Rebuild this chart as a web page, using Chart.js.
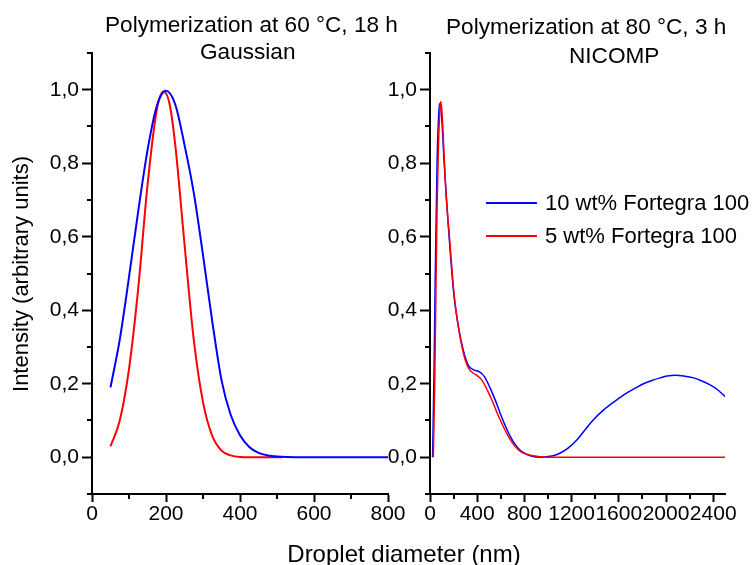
<!DOCTYPE html>
<html>
<head>
<meta charset="utf-8">
<script src="https://cdn.jsdelivr.net/npm/chart.js@4.4.1/dist/chart.umd.min.js"></script>
<style>
  body { margin:0; background:#fff; }
  #wrap { position:relative; width:755px; height:565px; overflow:hidden; font-family: Arial, "Liberation Sans", sans-serif; color:#000; }
  canvas { position:absolute; top:0; }
  .txt { position:absolute; white-space:nowrap; font-size:22px; line-height:22px; }
  .ttl { font-size:22.6px; }
  .legline { position:absolute; height:2px; }
</style>
</head>
<body>
<div id="wrap">
  <canvas id="left" width="420" height="565" style="left:0"></canvas>
  <canvas id="right" width="415" height="565" style="left:340px"></canvas>
  <div class="txt ttl" style="left:105px;top:14px">Polymerization at 60 °C, 18 h</div>
  <div class="txt ttl" style="left:200px;top:41px">Gaussian</div>
  <div class="txt ttl" style="left:446px;top:16px">Polymerization at 80 °C, 3 h</div>
  <div class="txt ttl" style="left:569px;top:45px">NICOMP</div>
  <div class="txt" style="left:-129px;top:263px;width:300px;text-align:center;transform:rotate(-90deg)">Intensity (arbitrary units)</div>
  <div class="txt" style="left:254px;top:542px;width:300px;text-align:center;font-size:24px;line-height:24px">Droplet diameter (nm)</div>
  <div id="legend"></div>
</div>
<script>
// series labels / colours
const seriesLabels = ['10 wt% Fortegra 100', '5 wt% Fortegra 100']
const seriesColors = ['#0000ff', '#ff0000']

// left panel: Gaussian, 60 °C 18 h
const leftX10 = [50, 75, 100, 125, 150, 175, 200, 225, 250, 275, 300, 325, 350, 375, 400, 425, 450, 475, 500, 550, 600, 700, 800]
const leftY10 = [0.19, 0.32, 0.49, 0.67, 0.835, 0.955, 0.997, 0.96, 0.85, 0.72, 0.55, 0.37, 0.21, 0.115, 0.06, 0.028, 0.012, 0.005, 0.002, 0, 0, 0, 0]
const leftX5 = [50, 75, 100, 125, 150, 175, 193, 210, 225, 250, 275, 300, 325, 350, 375, 400, 450, 515]
const leftY5 = [0.03, 0.10, 0.24, 0.46, 0.74, 0.945, 0.995, 0.96, 0.85, 0.58, 0.32, 0.15, 0.058, 0.018, 0.005, 0.001, 0, 0]

// right panel: NICOMP, 80 °C 3 h
const rightX10 = [22, 35, 45, 60, 75, 87, 100, 120, 155, 200, 240, 283, 325, 370, 420, 460, 510, 560, 600, 680, 760, 850, 960, 1000, 1050, 1100, 1170, 1244, 1315, 1385, 1455, 1527, 1600, 1668, 1740, 1809, 1880, 1950, 2010, 2078, 2150, 2233, 2300, 2374, 2440, 2500]
const rightY10 = [0, 0.25, 0.50, 0.80, 0.94, 0.963, 0.92, 0.80, 0.63, 0.45, 0.356, 0.29, 0.25, 0.238, 0.232, 0.22, 0.188, 0.15, 0.115, 0.057, 0.020, 0.004, 0, 0.002, 0.005, 0.011, 0.025, 0.047, 0.075, 0.102, 0.124, 0.143, 0.160, 0.175, 0.188, 0.200, 0.209, 0.216, 0.221, 0.223, 0.221, 0.216, 0.208, 0.197, 0.183, 0.165]
const rightX5 = [28, 40, 50, 60, 72, 85, 93, 105, 120, 135, 165, 203, 240, 283, 325, 370, 400, 440, 510, 594, 680, 765, 875, 990, 2500]
const rightY5 = [0, 0.2, 0.45, 0.68, 0.85, 0.95, 0.968, 0.92, 0.82, 0.72, 0.60, 0.447, 0.356, 0.283, 0.243, 0.228, 0.222, 0.21, 0.166, 0.102, 0.048, 0.016, 0.004, 0, 0]

// axis ranges / ticks
const yRange = [-0.1, 1.1]
const yLabelled = [0, 0.2, 0.4, 0.6, 0.8, 1.0]
const leftXRange = [0, 800]
const leftXLabelled = [0, 200, 400, 600, 800]
const rightXRange = [0, 2500]
const rightXLabelled = [0, 400, 800, 1200, 1600, 2000, 2400]

Chart.defaults.font.family = 'Arial, "Liberation Sans", sans-serif'
Chart.defaults.color = '#000'

const pts = (xs, ys) => xs.map((x, i) => ({x, y: ys[i]}))
const near = (list, v) => list.some(l => Math.abs(l - v) < 1e-6)

// short minor ticks for unlabelled steps
const minorTicks = {
  id: 'minorTicks',
  afterDraw(chart) {
    const ctx = chart.ctx
    const xs = chart.scales.x, ys = chart.scales.y
    ctx.save()
    ctx.strokeStyle = '#000'
    ctx.lineWidth = 2
    ctx.beginPath()
    xs.ticks.forEach(t => {
      if (t.label !== '') return
      const p = Math.round(xs.getPixelForValue(t.value))
      ctx.moveTo(p, xs.top); ctx.lineTo(p, xs.top + 5)
    })
    ys.ticks.forEach(t => {
      if (t.label !== '') return
      const p = Math.round(ys.getPixelForValue(t.value))
      ctx.moveTo(ys.right - 5, p); ctx.lineTo(ys.right, p)
    })
    ctx.stroke()
    ctx.restore()
  }
}

function makeChart(id, sets, xRange, xStep, xLabelled, yWidth, padRight) {
  return new Chart(document.getElementById(id), {
    type: 'line',
    data: {
      datasets: sets.map(s => ({
        label: s.label, data: s.data, borderColor: s.color, borderWidth: s.width,
        pointRadius: 0, fill: false, cubicInterpolationMode: 'monotone', order: s.order
      }))
    },
    options: {
      responsive: false, animation: false, devicePixelRatio: 1,
      layout: { padding: { top: 53, right: padRight, left: 0, bottom: 0 } },
      plugins: { legend: { display: false }, tooltip: { enabled: false } },
      scales: {
        x: {
          type: 'linear', min: xRange[0], max: xRange[1],
          afterFit: s => { s.height = 71; s.paddingLeft = 0; s.paddingRight = 0 },
          border: { color: '#000', width: 2 },
          grid: { drawOnChartArea: false, tickLength: 8, tickWidth: 2,
            tickColor: c => (c.tick && near(xLabelled, c.tick.value)) ? '#000' : 'rgba(0,0,0,0)' },
          ticks: { stepSize: xStep, autoSkip: false, maxRotation: 0, includeBounds: false, padding: 0,
            font: { size: 21 },
            callback: v => near(xLabelled, v) ? String(Math.round(v)) : '' }
        },
        y: {
          type: 'linear', min: yRange[0], max: yRange[1],
          afterFit: s => { s.width = yWidth; s.paddingTop = 0; s.paddingBottom = 0 },
          border: { color: '#000', width: 2 },
          grid: { drawOnChartArea: false, tickLength: 10, tickWidth: 2,
            tickColor: c => (c.tick && near(yLabelled, c.tick.value)) ? '#000' : 'rgba(0,0,0,0)' },
          ticks: { stepSize: 0.1, autoSkip: false, includeBounds: false, padding: 3,
            font: { size: 21 },
            callback: v => near(yLabelled, v) ? v.toFixed(1).replace('.', ',') : '' }
        }
      }
    },
    plugins: [minorTicks]
  })
}

makeChart('left', [
  { label: seriesLabels[0], data: pts(leftX10, leftY10), color: seriesColors[0], width: 2, order: 0 },
  { label: seriesLabels[1], data: pts(leftX5, leftY5), color: seriesColors[1], width: 2, order: 1 }
], leftXRange, 100, leftXLabelled, 92, 32)

makeChart('right', [
  { label: seriesLabels[0], data: pts(rightX10, rightY10), color: seriesColors[0], width: 1.5, order: 1 },
  { label: seriesLabels[1], data: pts(rightX5, rightY5), color: seriesColors[1], width: 1.5, order: 0 }
], rightXRange, 200, rightXLabelled, 90, 30)

// legend inside right panel
const legend = document.getElementById('legend')
seriesLabels.forEach((lab, i) => {
  const y = 203 + i * 33
  const ln = document.createElement('div')
  ln.className = 'legline'
  ln.style.cssText = `left:486px;top:${y - 1}px;width:51px;background:${seriesColors[i]}`
  legend.appendChild(ln)
  const tx = document.createElement('div')
  tx.className = 'txt'
  tx.style.cssText = `left:545px;top:${y - 11}px`
  tx.textContent = lab
  legend.appendChild(tx)
})
</script>
</body>
</html>
